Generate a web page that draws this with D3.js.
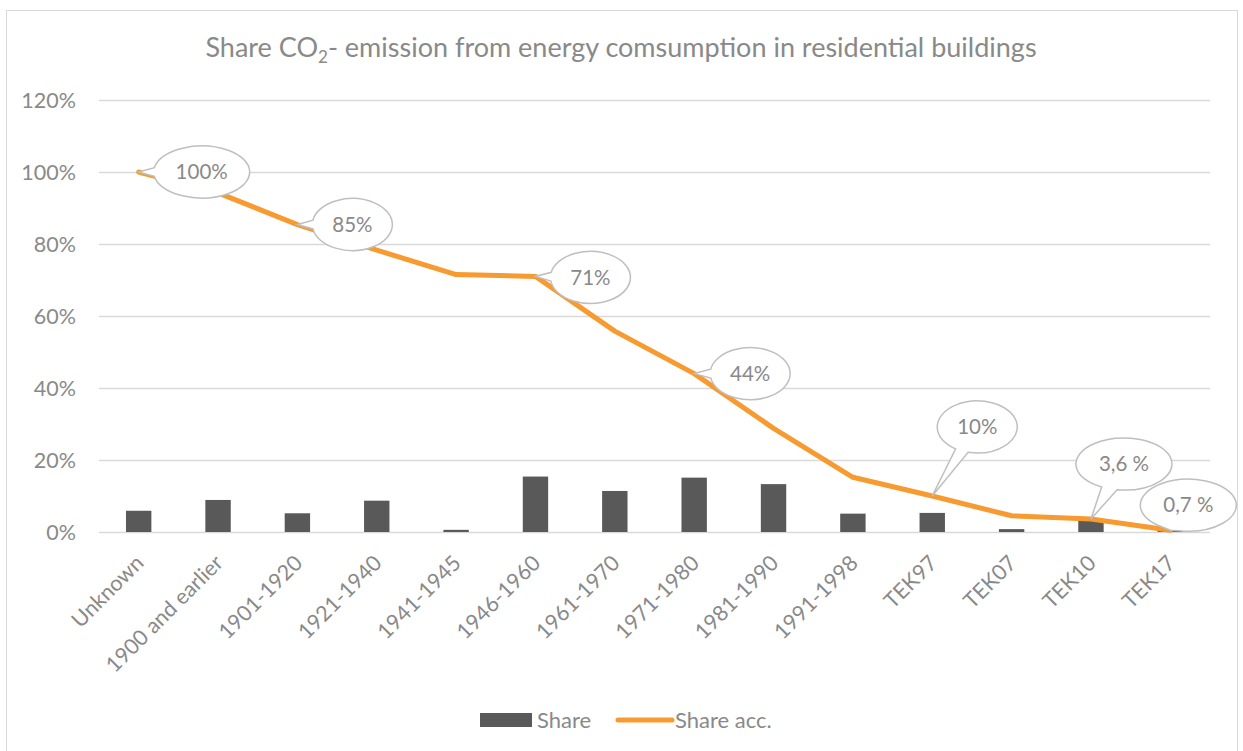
<!DOCTYPE html>
<html>
<head>
<meta charset="utf-8">
<script src="https://cdn.jsdelivr.net/npm/d3@7"></script>
<style>
  html, body { margin: 0; padding: 0; background: #fff; }
  svg { display: block; font-family: Lato, "Open Sans", sans-serif; }
</style>
</head>
<body>
<div id="chart"></div>
<script>
// Chart data
const categories = ['Unknown', '1900 and earlier', '1901-1920', '1921-1940', '1941-1945', '1946-1960',
    '1961-1970', '1971-1980', '1981-1990', '1991-1998', 'TEK97', 'TEK07', 'TEK10', 'TEK17'];
const share = [5.9, 8.9, 5.2, 8.7, 0.6, 15.4, 11.4, 15.1, 13.3, 5.1, 5.3, 0.8, 3.1, 0.3];
const shareAcc = [100, 94.2, 85.4, 78.3, 71.5, 71.0, 55.8, 44, 28.8, 15.2, 10, 4.5, 3.6, 0.5];
const yTicks = [0, 20, 40, 60, 80, 100, 120];

// Callout labels on the accumulated line: category index + text
const callouts = [
    { i: 0, text: '100%' },
    { i: 2, text: '85%' },
    { i: 5, text: '71%' },
    { i: 7, text: '44%' },
    { i: 10, text: '10%' },
    { i: 12, text: '3,6 %' },
    { i: 13, text: '0,7 %' }
];
// bubble placement relative to the point (pixels), kept apart from the data
const calloutOffsets = [[63, 0], [55, 0], [55, 1], [56, 0], [45, -69], [33, -55], [18, -25]];

const W = 1243, H = 751;
const margin = { left: 99, right: 33, top: 100, bottom: 219 };
const textColor = '#898989';

const svg = d3.select('#chart').append('svg')
    .attr('width', W)
    .attr('height', H);

// Chart frame
svg.append('rect')
    .attr('x', 6.5).attr('y', 10.5)
    .attr('width', W - 12).attr('height', H + 10)
    .attr('fill', '#fff')
    .attr('stroke', '#d9d9d9');

const x = d3.scaleBand()
    .domain(categories)
    .range([margin.left, W - margin.right])
    .paddingInner(0.68)
    .paddingOuter(0.34);

const y = d3.scaleLinear()
    .domain([0, 120])
    .range([H - margin.bottom, margin.top]);

const cx = d => x(d) + x.bandwidth() / 2;

// Title
const title = svg.append('text')
    .attr('x', 621)
    .attr('y', 57)
    .attr('text-anchor', 'middle')
    .attr('fill', textColor)
    .style('font-size', '27px');
title.append('tspan').text('Share CO');
title.append('tspan').attr('dy', 6).style('font-size', '17px').text('2');
title.append('tspan').attr('dy', -6).text('- emission from energy comsumption in residential buildings');

// Gridlines
svg.append('g')
    .selectAll('line')
    .data(yTicks)
    .enter().append('line')
    .attr('x1', margin.left)
    .attr('x2', W - margin.right)
    .attr('y1', d => Math.round(y(d)) + 0.5)
    .attr('y2', d => Math.round(y(d)) + 0.5)
    .attr('stroke', '#d9d9d9')
    .attr('stroke-width', 1.3);

// Y axis labels
svg.append('g')
    .selectAll('text')
    .data(yTicks)
    .enter().append('text')
    .attr('x', 76)
    .attr('y', d => y(d))
    .attr('dy', '0.35em')
    .attr('text-anchor', 'end')
    .attr('fill', textColor)
    .style('font-size', '21.5px')
    .text(d => d + '%');

// X axis labels, rotated
svg.append('g')
    .selectAll('text')
    .data(categories)
    .enter().append('text')
    .attr('transform', d => `translate(${cx(d) + 1},${y(0) + 27}) rotate(-45)`)
    .attr('text-anchor', 'end')
    .attr('dy', '0.35em')
    .attr('fill', textColor)
    .style('font-size', '21.5px')
    .text(d => d);

// Bars
svg.append('g')
    .selectAll('rect')
    .data(share)
    .enter().append('rect')
    .attr('x', (d, i) => x(categories[i]))
    .attr('y', d => y(d))
    .attr('width', x.bandwidth())
    .attr('height', d => y(0) - y(d))
    .attr('fill', '#595959');

// Accumulated line
const line = d3.line()
    .x((d, i) => cx(categories[i]))
    .y(d => y(d));

svg.append('path')
    .datum(shareAcc)
    .attr('d', line)
    .attr('fill', 'none')
    .attr('stroke', '#f79a2f')
    .attr('stroke-width', 5)
    .attr('stroke-linejoin', 'round')
    .attr('stroke-linecap', 'round');

// Ellipse callout with a wedge pointing to (tx, ty)
function calloutPath(ex, ey, rx, ry, tx, ty) {
    const t = Math.atan2((ty - ey) / ry, (tx - ex) / rx);
    const inside = ((tx - ex) / rx) ** 2 + ((ty - ey) / ry) ** 2 <= 1;
    if (inside) {
        return `M${ex - rx},${ey} A${rx},${ry} 0 1 1 ${ex + rx},${ey} A${rx},${ry} 0 1 1 ${ex - rx},${ey} Z`;
    }
    const delta = 0.17;
    const p1 = [ex + rx * Math.cos(t + delta), ey + ry * Math.sin(t + delta)];
    const p2 = [ex + rx * Math.cos(t - delta), ey + ry * Math.sin(t - delta)];
    return `M${p1[0]},${p1[1]} A${rx},${ry} 0 1 1 ${p2[0]},${p2[1]} L${tx},${ty} Z`;
}

const bubbles = svg.append('g')
    .selectAll('g')
    .data(callouts)
    .enter().append('g');

bubbles.append('path')
    .attr('d', (d, k) => {
        const px = cx(categories[d.i]);
        const py = y(shareAcc[d.i]);
        const [dx, dy] = calloutOffsets[k];
        const rx = d.text.length > 4 || d.text === '100%' ? 48 : 40;
        return calloutPath(px + dx, py + dy, rx, 26, px, py);
    })
    .attr('fill', '#fff')
    .attr('stroke', '#bfbfbf')
    .attr('stroke-width', 1.5);

bubbles.append('text')
    .attr('x', (d, k) => cx(categories[d.i]) + calloutOffsets[k][0])
    .attr('y', (d, k) => y(shareAcc[d.i]) + calloutOffsets[k][1])
    .attr('dy', '0.35em')
    .attr('text-anchor', 'middle')
    .attr('fill', textColor)
    .style('font-size', '20.5px')
    .text(d => d.text);

// Legend
const legend = svg.append('g').attr('transform', 'translate(480,720)');
legend.append('rect')
    .attr('x', 0).attr('y', -7)
    .attr('width', 52).attr('height', 14)
    .attr('fill', '#595959');
legend.append('text')
    .attr('x', 57).attr('y', 0).attr('dy', '0.35em')
    .attr('fill', textColor)
    .style('font-size', '22px')
    .text('Share');
legend.append('line')
    .attr('x1', 138).attr('x2', 192)
    .attr('y1', 0).attr('y2', 0)
    .attr('stroke', '#f79a2f')
    .attr('stroke-width', 5)
    .attr('stroke-linecap', 'round');
legend.append('text')
    .attr('x', 195).attr('y', 0).attr('dy', '0.35em')
    .attr('fill', textColor)
    .style('font-size', '22px')
    .text('Share acc.');
</script>
</body>
</html>
